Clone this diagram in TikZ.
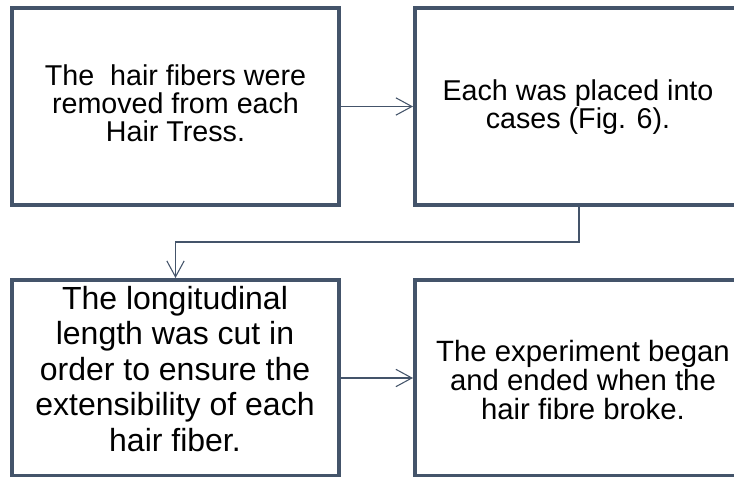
\documentclass[tikz,border=0pt]{standalone}
\usepackage{fontspec}
\setmainfont{Liberation Sans}
\usetikzlibrary{arrows.meta}
\definecolor{slate}{HTML}{44546A}
\begin{document}
\begin{tikzpicture}[x=0.75pt,y=-0.75pt,
  box/.style={draw=slate, line width=3pt, fill=white, inner sep=0pt},
  txt/.style={align=center, inner sep=0pt, font=\fontsize{21.5}{21}\selectfont},
  midtxt/.style={align=center, inner sep=0pt, font=\fontsize{22}{21.5}\selectfont},
  bigtxt/.style={align=center, inner sep=0pt, font=\fontsize{24}{26.6}\selectfont},
  conn/.style={draw=slate, line width=0.8pt,
    -{Straight Barb[length=12pt,width=13pt,line width=0.8pt]}}]
\useasboundingbox (0,0) rectangle (734,477);
\clip (0,0) rectangle (734,477);
\node[box, minimum width=245.25pt, minimum height=147.75pt] (tl) at (175.5,106.5) {};
\node[box, minimum width=253.5pt, minimum height=147.75pt] (tr) at (584,106.5) {};
\node[box, minimum width=245.25pt, minimum height=147pt] (bl) at (175.5,378) {};
\node[box, minimum width=253.5pt, minimum height=147pt] (br) at (584,378) {};
\node[txt] (tltext) at (175.5,103) {The\ \ hair fibers were\\removed from each\\Hair Tress.};
\node[txt] (trtext) at (578,107) {Each was placed into\\cases (Fig. 6).};
\node[bigtxt] (bltext) at (175,369) {The longitudinal\\length was cut in\\order to ensure the\\extensibility of each\\hair fiber.};
\node[midtxt] (brtext) at (583,380) {The experiment began\\and ended when the\\hair fibre broke.};
\coordinate (elb) at (579,242);
\draw[conn] (tl.east) -- (tl.east -| tr.west);
\draw[conn] (bl.east) -- (bl.east -| br.west);
\draw[conn] (tr.south -| elb) -- (elb) -| (bl.north);
\end{tikzpicture}
\end{document}
